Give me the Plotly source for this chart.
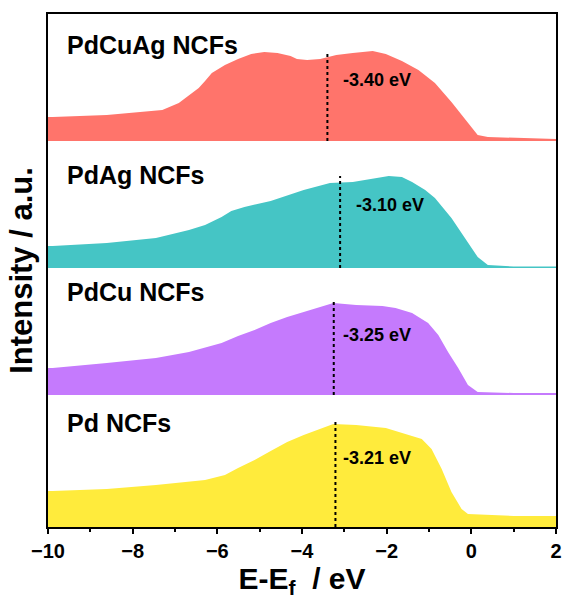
import plotly.graph_objects as go

# Energy (eV) and intensity (a.u.)
e_pdcuag = [-10.0, -9.89, -8.61, -7.84, -7.30, -6.91, -6.44, -6.29, -6.13, -5.82, -5.51, -5.20, -4.89, -4.58,
            -4.27, -4.12, -3.88, -3.57, -3.19, -2.80, -2.33, -2.02, -1.64, -1.25, -0.86, -0.47, -0.08,
            0.15, 0.39, 1.0, 2.0]
i_pdcuag = [24, 24, 26, 29, 31, 38, 53, 60, 68, 76, 82, 87, 89, 88,
            85, 82, 81, 82, 86, 88, 90, 87, 80, 71, 58, 39, 18,
            6, 4, 3, 2]

e_pdag = [-10.0, -9.89, -8.61, -7.45, -6.67, -6.29, -5.90, -5.67, -5.36, -4.74, -3.96, -3.34, -2.80, -2.41,
          -1.95, -1.64, -1.40, -1.09, -0.86, -0.47, -0.08, 0.15, 0.39, 1.0, 2.0]
i_pdag = [22, 22, 25, 30, 38, 43, 51, 57, 61, 67, 78, 85, 86, 89,
          92, 91, 86, 78, 70, 50, 26, 11, 3, 1.5, 1.5]

e_pdcu = [-10.0, -9.89, -8.61, -7.45, -6.67, -5.90, -5.51, -5.12, -4.74, -4.35, -3.96, -3.57, -3.26, -2.72,
          -2.10, -1.79, -1.40, -1.02, -0.78, -0.55, -0.31, -0.08, 0.15, 1.0, 2.0]
i_pdcu = [27, 27, 32, 37, 43, 52, 59, 65, 72, 78, 83, 88, 92, 90,
          89, 87, 82, 72, 60, 43, 27, 10, 3, 2, 2]

e_pd = [-10.0, -9.89, -8.61, -7.45, -6.29, -5.82, -5.51, -5.12, -4.74, -4.35, -3.96, -3.57, -3.26, -2.72,
        -2.02, -1.48, -1.17, -0.94, -0.70, -0.47, -0.23, -0.08, 1.0, 2.0]
i_pd = [36, 36, 38, 42, 47, 52, 59, 67, 76, 85, 92, 98, 103, 102,
        99, 92, 88, 78, 58, 35, 18, 13, 11, 11]

names = ["PdCuAg NCFs", "PdAg NCFs", "PdCu NCFs", "Pd NCFs"]
band_centers = [-3.40, -3.10, -3.25, -3.21]
band_labels = ["-3.40 eV", "-3.10 eV", "-3.25 eV", "-3.21 eV"]
offsets = [386, 259, 132, 0]
line_tops = [474, 351, 225, 106]
colors = ["#FF746B", "#45C5C5", "#C57AFD", "#FFEB3C"]
energies = [e_pdcuag, e_pdag, e_pdcu, e_pd]
intensities = [i_pdcuag, i_pdag, i_pdcu, i_pd]

FONT = "Liberation Sans, Arial, sans-serif"

fig = go.Figure()
for e, it, off, col in zip(energies, intensities, offsets, colors):
    xs = list(e) + [e[-1], e[0]]
    ys = [off + v for v in it] + [off, off]
    fig.add_trace(go.Scatter(x=xs, y=ys, fill="toself", fillcolor=col, mode="lines",
                             line=dict(width=0, color=col), hoverinfo="skip", showlegend=False))

for bc, off, top in zip(band_centers, offsets, line_tops):
    fig.add_trace(go.Scatter(x=[bc, bc], y=[off, top], mode="lines",
                             line=dict(color="black", width=2, dash="dot"), showlegend=False))

label_y = [482, 352, 235, 104]
ev_x = [-3.07, -2.77, -3.07, -3.07]
ev_y = [447, 322, 192, 69]
for name, ly, bl, ex, ey in zip(names, label_y, band_labels, ev_x, ev_y):
    fig.add_annotation(x=-9.6, y=ly, text=name, showarrow=False, xanchor="left", yanchor="middle",
                       font=dict(family=FONT, size=25, color="black", weight="bold"))
    fig.add_annotation(x=ex, y=ey, text=bl, showarrow=False, xanchor="left", yanchor="middle",
                       font=dict(family=FONT, size=18, color="black", weight="bold"))

fig.update_layout(
    width=568, height=599,
    margin=dict(l=48, r=6, t=14, b=72),
    plot_bgcolor="white", paper_bgcolor="white",
    font=dict(family=FONT, color="black"),
    xaxis=dict(range=[-10, 2], dtick=2, tick0=-10, showgrid=False, zeroline=False,
               showline=True, linecolor="black", linewidth=2, mirror=True,
               ticks="outside", ticklen=5, tickwidth=2, tickcolor="black",
               minor=dict(dtick=1, ticks="outside", ticklen=3, tickwidth=1.5, tickcolor="black"),
               tickfont=dict(family=FONT, size=20, color="black", weight="bold"),
               title=dict(text="E-E<sub>f</sub>  / eV", standoff=4,
                          font=dict(family=FONT, size=30, color="black", weight="bold"))),
    yaxis=dict(range=[0, 513], showgrid=False, zeroline=False, showticklabels=False, ticks="",
               showline=True, linecolor="black", linewidth=2, mirror=True,
               title=dict(text="Intensity / a.u.", standoff=4,
                          font=dict(family=FONT, size=31, color="black", weight="bold"))),
)

fig.write_html("out.html")
